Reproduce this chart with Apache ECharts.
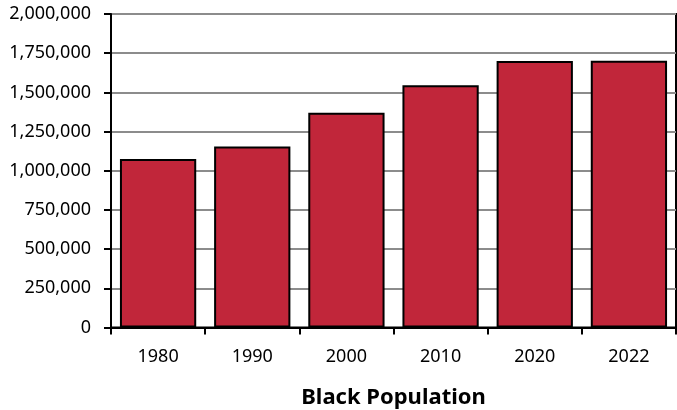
<!DOCTYPE html>
<html>
<head>
<meta charset="utf-8">
<script src="https://cdn.jsdelivr.net/npm/echarts@6/dist/echarts.min.js"></script>
<style>
html,body{margin:0;padding:0;background:#fff;}
#chart{width:677px;height:410px;}
</style>
</head>
<body>
<div id="chart"></div>
<script>
const categories = ['1980', '1990', '2000', '2010', '2020', '2022'];
const blackPopulation = [1075000, 1155000, 1370000, 1545000, 1700000, 1702000];
const yTicks = { min: 0, max: 2000000, interval: 250000 };
const xTitle = 'Black Population';

const chart = echarts.init(document.getElementById('chart'));
const font = '"Noto Sans", sans-serif';
chart.setOption({
  animation: false,
  grid: {
    left: 111, right: 1, top: 14, bottom: 82.5,
    outerBoundsMode: 'none', containLabel: false,
    show: true, borderColor: '#000', borderWidth: 2, backgroundColor: 'transparent'
  },
  xAxis: {
    type: 'category',
    data: categories,
    name: xTitle,
    nameLocation: 'middle',
    nameGap: 59,
    nameTextStyle: { fontFamily: font, fontSize: 22, fontWeight: 'bold', color: '#000' },
    axisLine: { lineStyle: { color: '#000', width: 2 } },
    axisTick: { show: true, length: 7, lineStyle: { color: '#000', width: 2 } },
    axisLabel: { fontFamily: font, fontSize: 18, color: '#000', margin: 20 }
  },
  yAxis: {
    type: 'value',
    min: yTicks.min, max: yTicks.max, interval: yTicks.interval,
    axisLine: { show: true, lineStyle: { color: '#000', width: 2 } },
    axisTick: { show: true, length: 7, lineStyle: { color: '#000', width: 2 } },
    axisLabel: {
      fontFamily: font, fontSize: 18, color: '#000', margin: 20,
      formatter: v => v.toLocaleString('en-US')
    },
    splitLine: { show: true, lineStyle: { color: '#8c8c8c', width: 2 } }
  },
  series: [{
    type: 'bar',
    data: blackPopulation,
    barCategoryGap: '19%',
    itemStyle: { color: '#C1263A', borderColor: '#000', borderWidth: 2 }
  }]
});
</script>
</body>
</html>
